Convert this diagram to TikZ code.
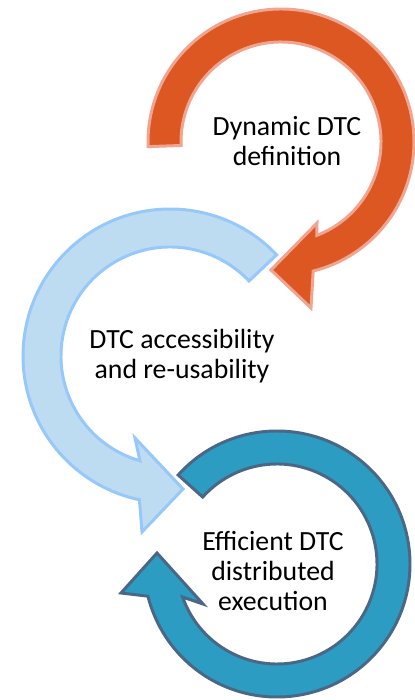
\documentclass[tikz,border=0pt]{standalone}
\usepackage{fontspec}
\setmainfont{Carlito}
\usepackage{tikz}
\definecolor{dtcorange}{RGB}{221,87,34}
\definecolor{dtcorangeline}{RGB}{240,165,145}
\definecolor{dtclight}{RGB}{189,220,241}
\definecolor{dtclightline}{RGB}{150,200,250}
\definecolor{dtcteal}{RGB}{44,156,194}
\definecolor{dtctealline}{RGB}{74,104,134}
\newcommand{\bandline}{1.7pt}
\newcommand{\labelsize}{\fontsize{15.8}{17}\selectfont}

\begin{document}
\begin{tikzpicture}[x=0.02cm,y=0.02cm]
    %\draw[help lines] (0,0) grid[step=20] (414,700);
        \tikzset{cyclearrow/.style = {line width = \bandline, line join = miter}}
        \tikzset{cyclelabel/.style = {align = center, font = \labelsize, text = black}}
        \useasboundingbox (0,0) rectangle (414,700);

        % top circle
        \begin{scope}[shift={(281,558)}]
        \draw[cyclearrow, fill=dtcorange, draw=dtcorangeline]
            (182:133) arc[start angle=182, end angle=-76, radius=133]
            -- (30,-166) -- (-10,-128) -- (36,-81) -- (-69:100)
            arc[start angle=-69, end angle=182, radius=100] -- cycle;
        \node[cyclelabel] (dyn) at (6,1) {Dynamic DTC\\definition};
        \end{scope}

        % middle circle
        \begin{scope}[shift={(170,344)}]
        \draw[cyclearrow, fill=dtclight, draw=dtclightline]
            (43.5:147) arc[start angle=43.5, end angle=258, radius=147]
            -- (-28,-176) -- (13,-133) -- (-35,-82) -- (254:109)
            arc[start angle=254, end angle=43.5, radius=109] -- cycle;
        \node[cyclelabel] (access) at (12,0) {DTC accessibility\\and re-usability};
        \end{scope}

        % bottom circle
        \begin{scope}[shift={(277,136)}]
        \draw[cyclearrow, fill=dtcteal, draw=dtctealline]
            (138:133) arc[start angle=138, end angle=-166, radius=133]
            -- (-156,-29) -- (-120,11) -- (-74,-40) -- (-160.7:100)
            arc[start angle=-160.7, end angle=138, radius=100] -- cycle;
        \node[cyclelabel] (exec) at (-4,-7) {Efficient DTC\\distributed\\execution};
        \end{scope}

\end{tikzpicture}
\end{document}
